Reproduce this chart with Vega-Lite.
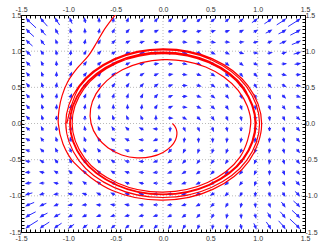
{
"$schema":"https://vega.github.io/schema/vega-lite/v6.json",
"width":284,"height":217,
"autosize":{"type":"none"},
"padding":{"left":21,"top":15,"right":18,"bottom":19},
"config":{"view":{"stroke":"#000","strokeWidth":1},"axis":{"domain":false,"grid":false,"labelFont":"Liberation Sans","labelFontSize":7,"labelColor":"#333","tickColor":"#000","tickWidth":1,"tickSize":-3,"labelPadding":3,"labelFlush":false,"labelOverlap":false,"title":null}},
"resolve":{"axis":{"x":"independent","y":"independent"}},
"datasets":{
"grid":[{"v":-1},{"v":-0.5},{"v":0},{"v":0.5},{"v":1}],
"shafts":[
{"x":1.425,"y":1.425,"x2":1.322,"y2":1.341},{"x":1.275,"y":1.425,"x2":1.201,"y2":1.363},{"x":1.425,"y":1.275,"x2":1.345,"y2":1.221},{"x":1.125,"y":1.425,"x2":1.071,"y2":1.378},{"x":1.425,"y":1.125,"x2":1.361,"y2":1.091},{"x":1.275,"y":1.275,"x2":1.22,"y2":1.238},{"x":0.975,"y":1.425,"x2":0.939,"y2":1.394},{"x":1.425,"y":0.975,"x2":1.38,"y2":0.959},{"x":1.125,"y":1.275,"x2":1.085,"y2":1.249},{"x":1.275,"y":1.125,"x2":1.232,"y2":1.104},{"x":0.825,"y":1.425,"x2":0.798,"y2":1.401},{"x":1.425,"y":0.825,"x2":1.39,"y2":0.818},
{"x":-1.425,"y":1.425,"x2":-1.341,"y2":1.322},{"x":-1.425,"y":1.275,"x2":-1.363,"y2":1.201},{"x":-1.275,"y":1.425,"x2":-1.221,"y2":1.345},{"x":-1.425,"y":1.125,"x2":-1.378,"y2":1.071},{"x":-1.125,"y":1.425,"x2":-1.091,"y2":1.361},{"x":-1.275,"y":1.275,"x2":-1.238,"y2":1.22},{"x":-1.425,"y":0.975,"x2":-1.394,"y2":0.939},{"x":-0.975,"y":1.425,"x2":-0.959,"y2":1.38},{"x":-1.275,"y":1.125,"x2":-1.249,"y2":1.085},{"x":-1.125,"y":1.275,"x2":-1.104,"y2":1.232},{"x":-1.425,"y":0.825,"x2":-1.401,"y2":0.798},{"x":-0.825,"y":1.425,"x2":-0.818,"y2":1.39},
{"x":-1.425,"y":-1.425,"x2":-1.322,"y2":-1.341},{"x":-1.275,"y":-1.425,"x2":-1.201,"y2":-1.363},{"x":-1.425,"y":-1.275,"x2":-1.345,"y2":-1.221},{"x":-1.125,"y":-1.425,"x2":-1.071,"y2":-1.378},{"x":-1.425,"y":-1.125,"x2":-1.361,"y2":-1.091},{"x":-1.275,"y":-1.275,"x2":-1.22,"y2":-1.238},{"x":-0.975,"y":-1.425,"x2":-0.939,"y2":-1.394},{"x":-1.425,"y":-0.975,"x2":-1.38,"y2":-0.959},{"x":-1.125,"y":-1.275,"x2":-1.085,"y2":-1.249},{"x":-1.275,"y":-1.125,"x2":-1.232,"y2":-1.104},{"x":-0.825,"y":-1.425,"x2":-0.798,"y2":-1.401},{"x":-1.425,"y":-0.825,"x2":-1.39,"y2":-0.818},
{"x":1.425,"y":-1.425,"x2":1.341,"y2":-1.322},{"x":1.425,"y":-1.275,"x2":1.363,"y2":-1.201},{"x":1.275,"y":-1.425,"x2":1.221,"y2":-1.345},{"x":1.425,"y":-1.125,"x2":1.378,"y2":-1.071},{"x":1.125,"y":-1.425,"x2":1.091,"y2":-1.361},{"x":1.275,"y":-1.275,"x2":1.238,"y2":-1.22},{"x":1.425,"y":-0.975,"x2":1.394,"y2":-0.939},{"x":0.975,"y":-1.425,"x2":0.959,"y2":-1.38},{"x":1.275,"y":-1.125,"x2":1.249,"y2":-1.085},{"x":1.125,"y":-1.275,"x2":1.104,"y2":-1.232},{"x":1.425,"y":-0.825,"x2":1.401,"y2":-0.798},{"x":0.825,"y":-1.425,"x2":0.818,"y2":-1.39}
],
"heads":[
{"x":0.075,"y":0.075,"a":91},{"x":0.075,"y":0.225,"a":67},{"x":0.075,"y":0.375,"a":65},{"x":0.075,"y":0.525,"a":71},{"x":0.075,"y":0.675,"a":80},{"x":0.075,"y":0.825,"a":90},{"x":0.075,"y":0.975,"a":94},{"x":0.075,"y":1.125,"a":90},{"x":0.075,"y":1.275,"a":72},{"x":0.075,"y":1.425,"a":46},
{"x":-0.075,"y":0.075,"a":1},{"x":-0.225,"y":0.075,"a":337},{"x":-0.375,"y":0.075,"a":335},{"x":-0.525,"y":0.075,"a":341},{"x":-0.675,"y":0.075,"a":350},{"x":-0.825,"y":0.075,"a":0},{"x":-0.975,"y":0.075,"a":4},{"x":-1.125,"y":0.075,"a":0},{"x":-1.275,"y":0.075,"a":342},{"x":-1.425,"y":0.075,"a":316},
{"x":-0.075,"y":-0.075,"a":271},{"x":-0.075,"y":-0.225,"a":247},{"x":-0.075,"y":-0.375,"a":245},{"x":-0.075,"y":-0.525,"a":251},{"x":-0.075,"y":-0.675,"a":260},{"x":-0.075,"y":-0.825,"a":270},{"x":-0.075,"y":-0.975,"a":274},{"x":-0.075,"y":-1.125,"a":270},{"x":-0.075,"y":-1.275,"a":252},{"x":-0.075,"y":-1.425,"a":226},
{"x":0.075,"y":-0.075,"a":181},{"x":0.225,"y":-0.075,"a":157},{"x":0.375,"y":-0.075,"a":155},{"x":0.525,"y":-0.075,"a":161},{"x":0.675,"y":-0.075,"a":170},{"x":0.825,"y":-0.075,"a":180},{"x":0.975,"y":-0.075,"a":184},{"x":1.125,"y":-0.075,"a":180},{"x":1.275,"y":-0.075,"a":162},{"x":1.425,"y":-0.075,"a":136},
{"x":0.225,"y":0.075,"a":120},{"x":0.225,"y":0.225,"a":96},{"x":0.225,"y":0.375,"a":88},{"x":0.225,"y":0.525,"a":89},{"x":0.225,"y":0.675,"a":95},{"x":0.225,"y":0.825,"a":101},{"x":0.225,"y":0.975,"a":103},{"x":0.225,"y":1.125,"a":96},{"x":0.225,"y":1.275,"a":75},{"x":0.225,"y":1.425,"a":50},
{"x":-0.075,"y":0.225,"a":30},{"x":-0.225,"y":0.225,"a":6},{"x":-0.375,"y":0.225,"a":358},{"x":-0.525,"y":0.225,"a":359},{"x":-0.675,"y":0.225,"a":5},{"x":-0.825,"y":0.225,"a":11},{"x":-0.975,"y":0.225,"a":13},{"x":-1.125,"y":0.225,"a":6},{"x":-1.275,"y":0.225,"a":345},{"x":-1.425,"y":0.225,"a":320},
{"x":-0.225,"y":-0.075,"a":300},{"x":-0.225,"y":-0.225,"a":276},{"x":-0.225,"y":-0.375,"a":268},{"x":-0.225,"y":-0.525,"a":269},{"x":-0.225,"y":-0.675,"a":275},{"x":-0.225,"y":-0.825,"a":281},{"x":-0.225,"y":-0.975,"a":283},{"x":-0.225,"y":-1.125,"a":276},{"x":-0.225,"y":-1.275,"a":255},{"x":-0.225,"y":-1.425,"a":230},
{"x":0.075,"y":-0.225,"a":210},{"x":0.225,"y":-0.225,"a":186},{"x":0.375,"y":-0.225,"a":178},{"x":0.525,"y":-0.225,"a":179},{"x":0.675,"y":-0.225,"a":185},{"x":0.825,"y":-0.225,"a":191},{"x":0.975,"y":-0.225,"a":193},{"x":1.125,"y":-0.225,"a":186},{"x":1.275,"y":-0.225,"a":165},{"x":1.425,"y":-0.225,"a":140},
{"x":0.375,"y":0.075,"a":133},{"x":0.375,"y":0.225,"a":116},{"x":0.375,"y":0.375,"a":108},{"x":0.375,"y":0.525,"a":107},{"x":0.375,"y":0.675,"a":110},{"x":0.375,"y":0.825,"a":113},{"x":0.375,"y":0.975,"a":111},{"x":0.375,"y":1.125,"a":99},{"x":0.375,"y":1.275,"a":76},{"x":0.375,"y":1.425,"a":51},
{"x":-0.075,"y":0.375,"a":43},{"x":-0.225,"y":0.375,"a":26},{"x":-0.375,"y":0.375,"a":18},{"x":-0.525,"y":0.375,"a":17},{"x":-0.675,"y":0.375,"a":20},{"x":-0.825,"y":0.375,"a":23},{"x":-0.975,"y":0.375,"a":21},{"x":-1.125,"y":0.375,"a":9},{"x":-1.275,"y":0.375,"a":346},{"x":-1.425,"y":0.375,"a":321},
{"x":-0.375,"y":-0.075,"a":313},{"x":-0.375,"y":-0.225,"a":296},{"x":-0.375,"y":-0.375,"a":288},{"x":-0.375,"y":-0.525,"a":287},{"x":-0.375,"y":-0.675,"a":290},{"x":-0.375,"y":-0.825,"a":293},{"x":-0.375,"y":-0.975,"a":291},{"x":-0.375,"y":-1.125,"a":279},{"x":-0.375,"y":-1.275,"a":256},{"x":-0.375,"y":-1.425,"a":231},
{"x":0.075,"y":-0.375,"a":223},{"x":0.225,"y":-0.375,"a":206},{"x":0.375,"y":-0.375,"a":198},{"x":0.525,"y":-0.375,"a":197},{"x":0.675,"y":-0.375,"a":200},{"x":0.825,"y":-0.375,"a":203},{"x":0.975,"y":-0.375,"a":201},{"x":1.125,"y":-0.375,"a":189},{"x":1.275,"y":-0.375,"a":166},{"x":1.425,"y":-0.375,"a":141},
{"x":0.525,"y":0.075,"a":145},{"x":0.525,"y":0.225,"a":132},{"x":0.525,"y":0.375,"a":126},{"x":0.525,"y":0.525,"a":124},{"x":0.525,"y":0.675,"a":124},{"x":0.525,"y":0.825,"a":122},{"x":0.525,"y":0.975,"a":115},{"x":0.525,"y":1.125,"a":99},{"x":0.525,"y":1.275,"a":73},{"x":0.525,"y":1.425,"a":51},
{"x":-0.075,"y":0.525,"a":55},{"x":-0.225,"y":0.525,"a":42},{"x":-0.375,"y":0.525,"a":36},{"x":-0.525,"y":0.525,"a":34},{"x":-0.675,"y":0.525,"a":34},{"x":-0.825,"y":0.525,"a":32},{"x":-0.975,"y":0.525,"a":25},{"x":-1.125,"y":0.525,"a":9},{"x":-1.275,"y":0.525,"a":343},{"x":-1.425,"y":0.525,"a":321},
{"x":-0.525,"y":-0.075,"a":325},{"x":-0.525,"y":-0.225,"a":312},{"x":-0.525,"y":-0.375,"a":306},{"x":-0.525,"y":-0.525,"a":304},{"x":-0.525,"y":-0.675,"a":304},{"x":-0.525,"y":-0.825,"a":302},{"x":-0.525,"y":-0.975,"a":295},{"x":-0.525,"y":-1.125,"a":279},{"x":-0.525,"y":-1.275,"a":253},{"x":-0.525,"y":-1.425,"a":231},
{"x":0.075,"y":-0.525,"a":235},{"x":0.225,"y":-0.525,"a":222},{"x":0.375,"y":-0.525,"a":216},{"x":0.525,"y":-0.525,"a":214},{"x":0.675,"y":-0.525,"a":214},{"x":0.825,"y":-0.525,"a":212},{"x":0.975,"y":-0.525,"a":205},{"x":1.125,"y":-0.525,"a":189},{"x":1.275,"y":-0.525,"a":163},{"x":1.425,"y":-0.525,"a":141},
{"x":0.675,"y":0.075,"a":157},{"x":0.675,"y":0.225,"a":148},{"x":0.675,"y":0.375,"a":142},{"x":0.675,"y":0.525,"a":138},{"x":0.675,"y":0.675,"a":135},{"x":0.675,"y":0.825,"a":128},{"x":0.675,"y":0.975,"a":115},{"x":0.675,"y":1.125,"a":93},{"x":0.675,"y":1.275,"a":68},{"x":0.675,"y":1.425,"a":50},
{"x":-0.075,"y":0.675,"a":67},{"x":-0.225,"y":0.675,"a":58},{"x":-0.375,"y":0.675,"a":52},{"x":-0.525,"y":0.675,"a":48},{"x":-0.675,"y":0.675,"a":45},{"x":-0.825,"y":0.675,"a":38},{"x":-0.975,"y":0.675,"a":25},{"x":-1.125,"y":0.675,"a":3},{"x":-1.275,"y":0.675,"a":338},{"x":-1.425,"y":0.675,"a":320},
{"x":-0.675,"y":-0.075,"a":337},{"x":-0.675,"y":-0.225,"a":328},{"x":-0.675,"y":-0.375,"a":322},{"x":-0.675,"y":-0.525,"a":318},{"x":-0.675,"y":-0.675,"a":315},{"x":-0.675,"y":-0.825,"a":308},{"x":-0.675,"y":-0.975,"a":295},{"x":-0.675,"y":-1.125,"a":273},{"x":-0.675,"y":-1.275,"a":248},{"x":-0.675,"y":-1.425,"a":230},
{"x":0.075,"y":-0.675,"a":247},{"x":0.225,"y":-0.675,"a":238},{"x":0.375,"y":-0.675,"a":232},{"x":0.525,"y":-0.675,"a":228},{"x":0.675,"y":-0.675,"a":225},{"x":0.825,"y":-0.675,"a":218},{"x":0.975,"y":-0.675,"a":205},{"x":1.125,"y":-0.675,"a":183},{"x":1.275,"y":-0.675,"a":158},{"x":1.425,"y":-0.675,"a":140},
{"x":0.825,"y":0.075,"a":169},{"x":0.825,"y":0.225,"a":161},{"x":0.825,"y":0.375,"a":154},{"x":0.825,"y":0.525,"a":147},{"x":0.825,"y":0.675,"a":140},{"x":0.825,"y":0.825,"a":128},{"x":0.825,"y":0.975,"a":109},{"x":0.825,"y":1.125,"a":84},{"x":0.825,"y":1.275,"a":63},{"x":0.825,"y":1.425,"a":49},
{"x":-0.075,"y":0.825,"a":79},{"x":-0.225,"y":0.825,"a":71},{"x":-0.375,"y":0.825,"a":64},{"x":-0.525,"y":0.825,"a":57},{"x":-0.675,"y":0.825,"a":50},{"x":-0.825,"y":0.825,"a":38},{"x":-0.975,"y":0.825,"a":19},{"x":-1.125,"y":0.825,"a":354},{"x":-1.275,"y":0.825,"a":333},{"x":-1.425,"y":0.825,"a":319},
{"x":-0.825,"y":-0.075,"a":349},{"x":-0.825,"y":-0.225,"a":341},{"x":-0.825,"y":-0.375,"a":334},{"x":-0.825,"y":-0.525,"a":327},{"x":-0.825,"y":-0.675,"a":320},{"x":-0.825,"y":-0.825,"a":308},{"x":-0.825,"y":-0.975,"a":289},{"x":-0.825,"y":-1.125,"a":264},{"x":-0.825,"y":-1.275,"a":243},{"x":-0.825,"y":-1.425,"a":229},
{"x":0.075,"y":-0.825,"a":259},{"x":0.225,"y":-0.825,"a":251},{"x":0.375,"y":-0.825,"a":244},{"x":0.525,"y":-0.825,"a":237},{"x":0.675,"y":-0.825,"a":230},{"x":0.825,"y":-0.825,"a":218},{"x":0.975,"y":-0.825,"a":199},{"x":1.125,"y":-0.825,"a":174},{"x":1.275,"y":-0.825,"a":153},{"x":1.425,"y":-0.825,"a":139},
{"x":0.975,"y":0.075,"a":175},{"x":0.975,"y":0.225,"a":167},{"x":0.975,"y":0.375,"a":158},{"x":0.975,"y":0.525,"a":149},{"x":0.975,"y":0.675,"a":136},{"x":0.975,"y":0.825,"a":118},{"x":0.975,"y":0.975,"a":96},{"x":0.975,"y":1.125,"a":75},{"x":0.975,"y":1.275,"a":59},{"x":0.975,"y":1.425,"a":49},
{"x":-0.075,"y":0.975,"a":85},{"x":-0.225,"y":0.975,"a":77},{"x":-0.375,"y":0.975,"a":68},{"x":-0.525,"y":0.975,"a":59},{"x":-0.675,"y":0.975,"a":46},{"x":-0.825,"y":0.975,"a":28},{"x":-0.975,"y":0.975,"a":6},{"x":-1.125,"y":0.975,"a":345},{"x":-1.275,"y":0.975,"a":329},{"x":-1.425,"y":0.975,"a":319},
{"x":-0.975,"y":-0.075,"a":355},{"x":-0.975,"y":-0.225,"a":347},{"x":-0.975,"y":-0.375,"a":338},{"x":-0.975,"y":-0.525,"a":329},{"x":-0.975,"y":-0.675,"a":316},{"x":-0.975,"y":-0.825,"a":298},{"x":-0.975,"y":-0.975,"a":276},{"x":-0.975,"y":-1.125,"a":255},{"x":-0.975,"y":-1.275,"a":239},{"x":-0.975,"y":-1.425,"a":229},
{"x":0.075,"y":-0.975,"a":265},{"x":0.225,"y":-0.975,"a":257},{"x":0.375,"y":-0.975,"a":248},{"x":0.525,"y":-0.975,"a":239},{"x":0.675,"y":-0.975,"a":226},{"x":0.825,"y":-0.975,"a":208},{"x":0.975,"y":-0.975,"a":186},{"x":1.125,"y":-0.975,"a":165},{"x":1.275,"y":-0.975,"a":149},{"x":1.425,"y":-0.975,"a":139},
{"x":1.125,"y":0.075,"a":172},{"x":1.125,"y":0.225,"a":163},{"x":1.125,"y":0.375,"a":152},{"x":1.125,"y":0.525,"a":139},{"x":1.125,"y":0.675,"a":122},{"x":1.125,"y":0.825,"a":102},{"x":1.125,"y":0.975,"a":83},{"x":1.125,"y":1.125,"a":68},{"x":1.125,"y":1.275,"a":57},{"x":1.125,"y":1.425,"a":49},
{"x":-0.075,"y":1.125,"a":82},{"x":-0.225,"y":1.125,"a":73},{"x":-0.375,"y":1.125,"a":62},{"x":-0.525,"y":1.125,"a":49},{"x":-0.675,"y":1.125,"a":32},{"x":-0.825,"y":1.125,"a":12},{"x":-0.975,"y":1.125,"a":353},{"x":-1.125,"y":1.125,"a":338},{"x":-1.275,"y":1.125,"a":327},{"x":-1.425,"y":1.125,"a":319},
{"x":-1.125,"y":-0.075,"a":352},{"x":-1.125,"y":-0.225,"a":343},{"x":-1.125,"y":-0.375,"a":332},{"x":-1.125,"y":-0.525,"a":319},{"x":-1.125,"y":-0.675,"a":302},{"x":-1.125,"y":-0.825,"a":282},{"x":-1.125,"y":-0.975,"a":263},{"x":-1.125,"y":-1.125,"a":248},{"x":-1.125,"y":-1.275,"a":237},{"x":-1.125,"y":-1.425,"a":229},
{"x":0.075,"y":-1.125,"a":262},{"x":0.225,"y":-1.125,"a":253},{"x":0.375,"y":-1.125,"a":242},{"x":0.525,"y":-1.125,"a":229},{"x":0.675,"y":-1.125,"a":212},{"x":0.825,"y":-1.125,"a":192},{"x":0.975,"y":-1.125,"a":173},{"x":1.125,"y":-1.125,"a":158},{"x":1.275,"y":-1.125,"a":147},{"x":1.425,"y":-1.125,"a":139},
{"x":1.275,"y":0.075,"a":155},{"x":1.275,"y":0.225,"a":145},{"x":1.275,"y":0.375,"a":133},{"x":1.275,"y":0.525,"a":119},{"x":1.275,"y":0.675,"a":103},{"x":1.275,"y":0.825,"a":87},{"x":1.275,"y":0.975,"a":75},{"x":1.275,"y":1.125,"a":64},{"x":1.275,"y":1.275,"a":56},{"x":1.275,"y":1.425,"a":50},
{"x":-0.075,"y":1.275,"a":65},{"x":-0.225,"y":1.275,"a":55},{"x":-0.375,"y":1.275,"a":43},{"x":-0.525,"y":1.275,"a":29},{"x":-0.675,"y":1.275,"a":13},{"x":-0.825,"y":1.275,"a":357},{"x":-0.975,"y":1.275,"a":345},{"x":-1.125,"y":1.275,"a":334},{"x":-1.275,"y":1.275,"a":326},{"x":-1.425,"y":1.275,"a":320},
{"x":-1.275,"y":-0.075,"a":335},{"x":-1.275,"y":-0.225,"a":325},{"x":-1.275,"y":-0.375,"a":313},{"x":-1.275,"y":-0.525,"a":299},{"x":-1.275,"y":-0.675,"a":283},{"x":-1.275,"y":-0.825,"a":267},{"x":-1.275,"y":-0.975,"a":255},{"x":-1.275,"y":-1.125,"a":244},{"x":-1.275,"y":-1.275,"a":236},{"x":-1.275,"y":-1.425,"a":230},
{"x":0.075,"y":-1.275,"a":245},{"x":0.225,"y":-1.275,"a":235},{"x":0.375,"y":-1.275,"a":223},{"x":0.525,"y":-1.275,"a":209},{"x":0.675,"y":-1.275,"a":193},{"x":0.825,"y":-1.275,"a":177},{"x":0.975,"y":-1.275,"a":165},{"x":1.125,"y":-1.275,"a":154},{"x":1.275,"y":-1.275,"a":146},{"x":1.425,"y":-1.275,"a":140},
{"x":1.425,"y":0.075,"a":130},{"x":1.425,"y":0.225,"a":122},{"x":1.425,"y":0.375,"a":111},{"x":1.425,"y":0.525,"a":100},{"x":1.425,"y":0.675,"a":89},{"x":1.425,"y":0.825,"a":79},{"x":1.425,"y":0.975,"a":70},{"x":1.425,"y":1.125,"a":62},{"x":1.425,"y":1.275,"a":56},{"x":1.425,"y":1.425,"a":51},
{"x":-0.075,"y":1.425,"a":40},{"x":-0.225,"y":1.425,"a":32},{"x":-0.375,"y":1.425,"a":21},{"x":-0.525,"y":1.425,"a":10},{"x":-0.675,"y":1.425,"a":359},{"x":-0.825,"y":1.425,"a":349},{"x":-0.975,"y":1.425,"a":340},{"x":-1.125,"y":1.425,"a":332},{"x":-1.275,"y":1.425,"a":326},{"x":-1.425,"y":1.425,"a":321},
{"x":-1.425,"y":-0.075,"a":310},{"x":-1.425,"y":-0.225,"a":302},{"x":-1.425,"y":-0.375,"a":291},{"x":-1.425,"y":-0.525,"a":280},{"x":-1.425,"y":-0.675,"a":269},{"x":-1.425,"y":-0.825,"a":259},{"x":-1.425,"y":-0.975,"a":250},{"x":-1.425,"y":-1.125,"a":242},{"x":-1.425,"y":-1.275,"a":236},{"x":-1.425,"y":-1.425,"a":231},
{"x":0.075,"y":-1.425,"a":220},{"x":0.225,"y":-1.425,"a":212},{"x":0.375,"y":-1.425,"a":201},{"x":0.525,"y":-1.425,"a":190},{"x":0.675,"y":-1.425,"a":179},{"x":0.825,"y":-1.425,"a":169},{"x":0.975,"y":-1.425,"a":160},{"x":1.125,"y":-1.425,"a":152},{"x":1.275,"y":-1.425,"a":146},{"x":1.425,"y":-1.425,"a":141}
],
"inner":[
{"k":0,"x":0.1,"y":0},{"k":1,"x":0.122,"y":-0.033},{"k":2,"x":0.141,"y":-0.082},{"k":3,"x":0.147,"y":-0.147},{"k":4,"x":0.132,"y":-0.228},{"k":5,"x":0.085,"y":-0.317},{"k":6,"x":0,"y":-0.4},{"k":7,"x":-0.123,"y":-0.459},{"k":8,"x":-0.274,"y":-0.475},{"k":9,"x":-0.435,"y":-0.435},{"k":10,"x":-0.582,"y":-0.336},{"k":11,"x":-0.695,"y":-0.186},{"k":12,"x":-0.76,"y":0},{"k":13,"x":-0.765,"y":0.205},{"k":14,"x":-0.708,"y":0.409},{"k":15,"x":-0.593,"y":0.593},{"k":16,"x":-0.4285,"y":0.742},{"k":17,"x":-0.225,"y":0.841},{"k":18,"x":0,"y":0.883},{"k":19,"x":0.231,"y":0.863},{"k":20,"x":0.451,"y":0.781},{"k":21,"x":0.643,"y":0.643},{"k":22,"x":0.794,"y":0.458},{"k":23,"x":0.891,"y":0.239},{"k":24,"x":0.927,"y":0},{"k":25,"x":0.811,"y":-0.468},{"k":26,"x":0.471,"y":-0.816},{"k":27,"x":0,"y":-0.948},{"k":28,"x":-0.476,"y":-0.825},{"k":29,"x":-0.828,"y":-0.478},{"k":30,"x":-0.96,"y":0},{"k":31,"x":-0.834,"y":0.481},{"k":32,"x":-0.483,"y":0.836},{"k":33,"x":0,"y":0.967},{"k":34,"x":0.485,"y":0.839},{"k":35,"x":0.841,"y":0.486},{"k":36,"x":0.9725,"y":0},{"k":37,"x":0.843,"y":-0.487},{"k":38,"x":0.4875,"y":-0.844},{"k":39,"x":0,"y":-0.976},{"k":40,"x":-0.4885,"y":-0.846},{"k":41,"x":-0.847,"y":-0.489},{"k":42,"x":-0.979,"y":0},{"k":43,"x":-0.849,"y":0.49},{"k":44,"x":-0.49,"y":0.849},{"k":45,"x":0,"y":0.981},{"k":46,"x":0.491,"y":0.85},{"k":47,"x":0.851,"y":0.491},{"k":48,"x":0.983,"y":0},
{"k":49,"x":0.852,"y":-0.492},{"k":50,"x":0.492,"y":-0.852},{"k":51,"x":0,"y":-0.9848},{"k":52,"x":-0.4927,"y":-0.8533},{"k":53,"x":-0.8536,"y":-0.4929},{"k":54,"x":-0.9861,"y":0},{"k":55,"x":-0.8542,"y":0.4932},{"k":56,"x":-0.4934,"y":0.8546},{"k":57,"x":0,"y":0.9871},{"k":58,"x":0.4938,"y":0.8552},{"k":59,"x":0.8555,"y":0.4939},{"k":60,"x":0.9881,"y":0}
],
"outer":[
{"k":-9,"x":-1.0157,"y":0},{"k":-8,"x":-0.88,"y":0.508},{"k":-7,"x":-0.508,"y":0.881},{"k":-6,"x":0,"y":1.0175},{"k":-5,"x":0.509,"y":0.882},{"k":-4,"x":0.882,"y":0.509},{"k":-3,"x":1.0198,"y":0},{"k":-2,"x":0.884,"y":-0.51},{"k":-1,"x":0.511,"y":-0.885},
{"k":0,"x":0,"y":-1.023},{"k":1,"x":-0.512,"y":-0.887},{"k":2,"x":-0.888,"y":-0.513},{"k":3,"x":-1.027,"y":0},{"k":4,"x":-0.891,"y":0.514},{"k":5,"x":-0.515,"y":0.893},{"k":6,"x":0,"y":1.033},{"k":7,"x":0.518,"y":0.897},{"k":8,"x":0.899,"y":0.519},{"k":9,"x":1.042,"y":0},{"k":10,"x":0.906,"y":-0.523},{"k":11,"x":0.526,"y":-0.911},{"k":12,"x":0,"y":-1.06},{"k":13,"x":-0.535,"y":-0.927},{"k":14,"x":-0.939,"y":-0.542},{"k":15,"x":-1.056,"y":-0.283},{"k":16,"x":-1.106,"y":0},{"k":17,"x":-1.098,"y":0.194},{"k":18,"x":-1.065,"y":0.388},{"k":19,"x":-1.005,"y":0.58},{"k":20,"x":-0.908,"y":0.762},{"k":21,"x":-0.787,"y":0.938},{"k":22,"x":-0.7,"y":1.119},{"k":23,"x":-0.627,"y":1.285},{"k":24,"x":-0.548,"y":1.428},{"k":25,"x":-0.474,"y":1.549}
]
},
"layer":[
{"data":{"name":"grid"},"mark":{"type":"rule","color":"#a8a8a8","strokeWidth":0.8,"strokeDash":[1,2]},
 "encoding":{"x":{"field":"v","type":"quantitative","scale":{"domain":[-1.5,1.5],"nice":false,"zero":false},"axis":null}}},
{"data":{"name":"grid"},"mark":{"type":"rule","color":"#a8a8a8","strokeWidth":0.8,"strokeDash":[1,2]},
 "encoding":{"y":{"field":"v","type":"quantitative","scale":{"domain":[-1.5,1.5],"nice":false,"zero":false},"axis":null}}},
{"data":{"name":"shafts"},"mark":{"type":"rule","color":"#2a2aff","strokeWidth":1},
 "encoding":{
  "x":{"field":"x","type":"quantitative","scale":{"domain":[-1.5,1.5],"nice":false,"zero":false},
   "axis":{"orient":"top","labelPadding":6,"values":[-1.5,-1.45,-1.4,-1.35,-1.3,-1.25,-1.2,-1.15,-1.1,-1.05,-1,-0.95,-0.9,-0.85,-0.8,-0.75,-0.7,-0.65,-0.6,-0.55,-0.5,-0.45,-0.4,-0.35,-0.3,-0.25,-0.2,-0.15,-0.1,-0.05,0,0.05,0.1,0.15,0.2,0.25,0.3,0.35,0.4,0.45,0.5,0.55,0.6,0.65,0.7,0.75,0.8,0.85,0.9,0.95,1,1.05,1.1,1.15,1.2,1.25,1.3,1.35,1.4,1.45,1.5],
    "labelExpr":"abs(datum.value*2-round(datum.value*2))<0.01 ? replace(format(datum.value,'.1f'),'−','-') : ''"}},
  "y":{"field":"y","type":"quantitative","scale":{"domain":[-1.5,1.5],"nice":false,"zero":false},
   "axis":{"orient":"right","values":[-1.5,-1.45,-1.4,-1.35,-1.3,-1.25,-1.2,-1.15,-1.1,-1.05,-1,-0.95,-0.9,-0.85,-0.8,-0.75,-0.7,-0.65,-0.6,-0.55,-0.5,-0.45,-0.4,-0.35,-0.3,-0.25,-0.2,-0.15,-0.1,-0.05,0,0.05,0.1,0.15,0.2,0.25,0.3,0.35,0.4,0.45,0.5,0.55,0.6,0.65,0.7,0.75,0.8,0.85,0.9,0.95,1,1.05,1.1,1.15,1.2,1.25,1.3,1.35,1.4,1.45,1.5],
    "labelExpr":"abs(datum.value*2-round(datum.value*2))<0.01 ? replace(format(datum.value,'.1f'),'−','-') : ''"}},
  "x2":{"field":"x2"},"y2":{"field":"y2"}}},
{"data":{"name":"heads"},"mark":{"type":"point","shape":"M-0.6,0.5L0,-1L0.6,0.5M0,-1L0,1","filled":false,"stroke":"#2a2aff","strokeWidth":1,"size":18,"opacity":1},
 "encoding":{
  "x":{"field":"x","type":"quantitative","scale":{"domain":[-1.5,1.5],"nice":false,"zero":false},
   "axis":{"orient":"bottom","labelPadding":5,"values":[-1.5,-1.45,-1.4,-1.35,-1.3,-1.25,-1.2,-1.15,-1.1,-1.05,-1,-0.95,-0.9,-0.85,-0.8,-0.75,-0.7,-0.65,-0.6,-0.55,-0.5,-0.45,-0.4,-0.35,-0.3,-0.25,-0.2,-0.15,-0.1,-0.05,0,0.05,0.1,0.15,0.2,0.25,0.3,0.35,0.4,0.45,0.5,0.55,0.6,0.65,0.7,0.75,0.8,0.85,0.9,0.95,1,1.05,1.1,1.15,1.2,1.25,1.3,1.35,1.4,1.45,1.5],
    "labelExpr":"abs(datum.value*2-round(datum.value*2))<0.01 ? replace(format(datum.value,'.1f'),'−','-') : ''"}},
  "y":{"field":"y","type":"quantitative","scale":{"domain":[-1.5,1.5],"nice":false,"zero":false},
   "axis":{"orient":"left","values":[-1.5,-1.45,-1.4,-1.35,-1.3,-1.25,-1.2,-1.15,-1.1,-1.05,-1,-0.95,-0.9,-0.85,-0.8,-0.75,-0.7,-0.65,-0.6,-0.55,-0.5,-0.45,-0.4,-0.35,-0.3,-0.25,-0.2,-0.15,-0.1,-0.05,0,0.05,0.1,0.15,0.2,0.25,0.3,0.35,0.4,0.45,0.5,0.55,0.6,0.65,0.7,0.75,0.8,0.85,0.9,0.95,1,1.05,1.1,1.15,1.2,1.25,1.3,1.35,1.4,1.45,1.5],
    "labelExpr":"abs(datum.value*2-round(datum.value*2))<0.01 ? replace(format(datum.value,'.1f'),'−','-') : ''"}},
  "angle":{"field":"a","type":"quantitative","scale":{"domain":[0,360],"range":[0,360]}}}},
{"data":{"name":"inner"},"mark":{"type":"line","color":"#ff0000","strokeWidth":1.2,"interpolate":"catmull-rom","clip":true},
 "encoding":{"x":{"field":"x","type":"quantitative","scale":{"domain":[-1.5,1.5],"nice":false,"zero":false},"axis":null},
  "y":{"field":"y","type":"quantitative","scale":{"domain":[-1.5,1.5],"nice":false,"zero":false},"axis":null},
  "order":{"field":"k","type":"quantitative"}}},
{"data":{"name":"outer"},"mark":{"type":"line","color":"#ff0000","strokeWidth":1.2,"interpolate":"catmull-rom","clip":true},
 "encoding":{"x":{"field":"x","type":"quantitative","scale":{"domain":[-1.5,1.5],"nice":false,"zero":false},"axis":null},
  "y":{"field":"y","type":"quantitative","scale":{"domain":[-1.5,1.5],"nice":false,"zero":false},"axis":null},
  "order":{"field":"k","type":"quantitative"}}}
]
}
